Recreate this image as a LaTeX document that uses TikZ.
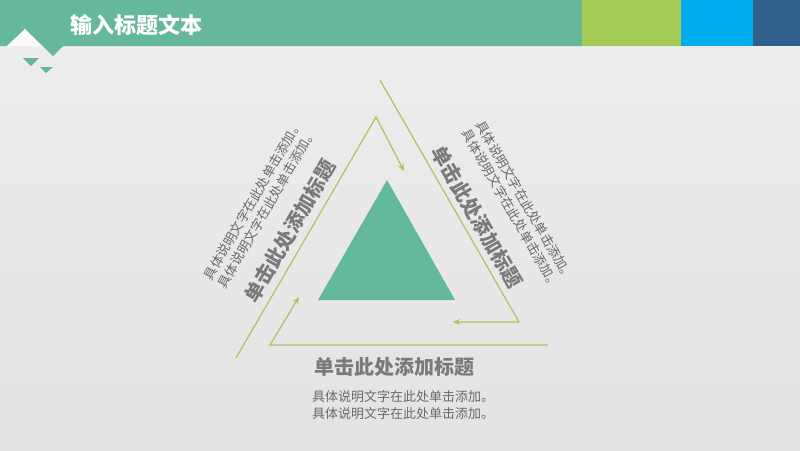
\documentclass[tikz,border=0pt]{standalone}
\usepackage{fontspec}
\setmainfont{Noto Sans CJK SC}
\usetikzlibrary{arrows.meta}
\definecolor{hgreen}{HTML}{66B89A}
\definecolor{hlime}{HTML}{A5CA55}
\definecolor{hblue}{HTML}{00AEEF}
\definecolor{hdark}{HTML}{2F5F8A}
\definecolor{tgreen}{HTML}{64B99A}
\definecolor{lline}{HTML}{A6C85C}
\definecolor{ttitle}{HTML}{7A7A7A}
\definecolor{tdesc}{HTML}{6A6A6A}
\definecolor{bgtop}{HTML}{EEEEEE}
\definecolor{bgbot}{HTML}{E3E3E3}
\tikzset{
  conn/.style={draw=lline, line width=1.2pt, -{Stealth[length=7pt,width=6pt]}},
  ttl/.style={inner sep=0pt, text=ttitle, font=\bfseries\fontsize{20}{24}\selectfont},
  dsc/.style={inner sep=0pt, text=tdesc, align=center, font=\fontsize{13}{16.5}\selectfont},
}
\begin{document}
\begin{tikzpicture}[x=1pt,y=-1pt]
\useasboundingbox (0,0) rectangle (800,450);
% background
\shade[top color=bgtop, bottom color=bgbot] (0,0) rectangle (800,450);
% header
\fill[hgreen] (0,0) -- (582,0) -- (582,46) -- (63,46) -- (53,56) -- (25,29) -- (7,46) -- (0,46) -- cycle;
\fill[white!97!gray] (7,46) -- (25,29) -- (42,46) -- cycle;
\fill[hlime] (582,0) rectangle (681,46);
\fill[hblue] (681,0) rectangle (753,46);
\fill[hdark] (753,0) rectangle (800,46);
\fill[hgreen] (23,58) -- (39,58) -- (31,66) -- cycle;
\fill[hgreen] (40,67) -- (53,67) -- (46,73) -- cycle;
\node[anchor=west, inner sep=0pt, text=white, font=\bfseries\fontsize{22}{26}\selectfont] (title) at (70,25) {输入标题文本};
% central triangle
\fill[tgreen] (387,180) -- (455,300) -- (318,300) -- cycle;
% connectors
\coordinate (a1) at (236,358);
\coordinate (a2) at (376,117);
\coordinate (a3) at (404,171);
\coordinate (b1) at (380,80);
\coordinate (b2) at (519,322);
\coordinate (b3) at (453,322);
\coordinate (c1) at (548,345);
\coordinate (c2) at (270,345);
\coordinate (c3) at (299,297);
\draw[conn] (a1) -- (a2) -- (a3);
\draw[conn] (b1) -- (b2) -- (b3);
\draw[conn] (c1) -- (c2) -- (c3);
% bottom texts
\node[ttl] (bt) at (394,367) {单击此处添加标题};
\node[dsc] (bd) at (403,405) {具体说明文字在此处单击添加。\\具体说明文字在此处单击添加。};
% left texts
\node[ttl, rotate=60] (lt) at (290,231) {单击此处添加标题};
\node[dsc, rotate=60] (ld) at (260,204) {具体说明文字在此处单击添加。\\具体说明文字在此处单击添加。};
% right texts
\node[ttl, rotate=-60] (rt) at (477,217) {单击此处添加标题};
\node[dsc, rotate=-60] (rd) at (518,205) {具体说明文字在此处单击添加。\\具体说明文字在此处单击添加。};
\end{tikzpicture}
\end{document}
